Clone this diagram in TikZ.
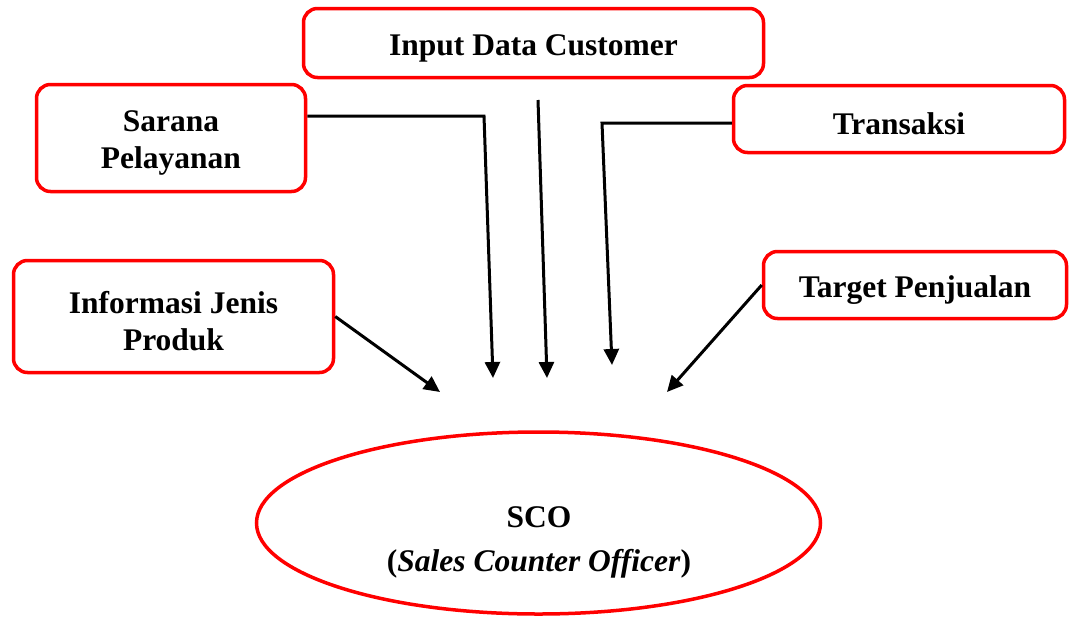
\documentclass[tikz,border=0pt]{standalone}
\usepackage{fontspec}
\setmainfont{Liberation Serif}
\usetikzlibrary{arrows.meta,shapes.geometric}
\begin{document}
\begin{tikzpicture}[x=1pt,y=-1pt,
  box/.style={draw=red,line width=3.5pt,rounded corners=14pt,inner sep=0pt},
  arr/.style={line width=3pt,-{Triangle[length=16pt,width=15pt]}},
  lbl/.style={align=center,font=\fontsize{31.5}{37}\selectfont\bfseries},
  boxtext/.style={label={[lbl,yshift=-5pt]center:{#1}}}
  ]
\useasboundingbox (0,0) rectangle (1073,616);
\node[box,minimum width=460pt,minimum height=69pt,boxtext={Input Data Customer}] (inp) at (533.5,43) {};
\node[box,minimum width=269pt,minimum height=107pt,boxtext={Sarana\\Pelayanan}] (sar) at (171,138) {};
\node[box,minimum width=320pt,minimum height=112pt,boxtext={Informasi Jenis\\Produk}] (inf) at (173.5,316.5) {};
\node[box,minimum width=331pt,minimum height=67pt,boxtext={Transaksi}] (tra) at (899,119) {};
\node[box,minimum width=303pt,minimum height=67pt,boxtext={Target Penjualan}] (tar) at (915,285) {};
\node[draw=red,line width=3.5pt,ellipse,minimum width=564pt,minimum height=182pt,inner sep=0pt] (sco) at (538.5,523) {};
\node[lbl] (scot) at (539,542) {SCO\\[7pt](\textit{Sales Counter Officer})};

\coordinate (s1) at (484,116);
\coordinate (s2) at (493,378);
\coordinate (i1) at (538,100);
\coordinate (i2) at (547,378);
\coordinate (t1) at (602,123);
\coordinate (t2) at (612,365);
\coordinate (f2) at (440,392);
\coordinate (g2) at (667,392);

\draw[arr] (sar.east |- s1) -- (s1) -- (s2);
\draw[arr] (i1) -- (i2);
\draw[arr] (tra.west |- t1) -- (t1) -- (t2);
\draw[arr] (inf.east) -- (f2);
\draw[arr] (tar.west) -- (g2);
\end{tikzpicture}
\end{document}
